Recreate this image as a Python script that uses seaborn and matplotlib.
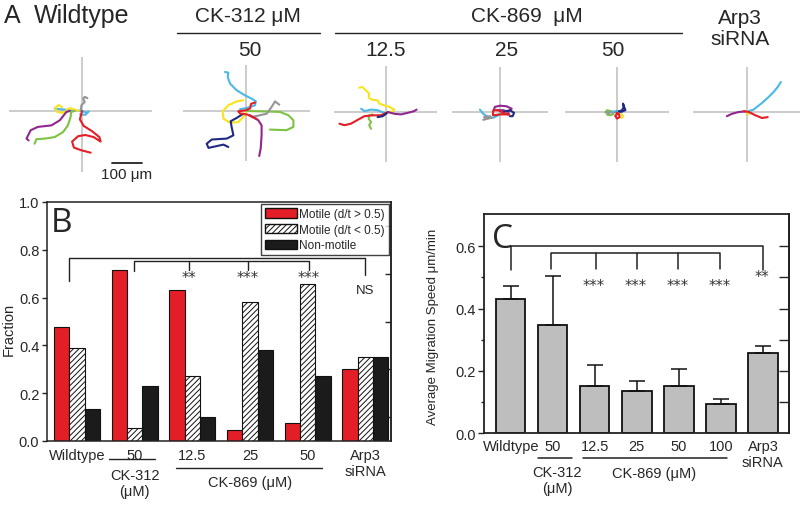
import numpy as np
import pandas as pd
import matplotlib
matplotlib.use("Agg")
import matplotlib.pyplot as plt
import matplotlib.transforms as mtransforms
from matplotlib.lines import Line2D
from matplotlib.patches import Patch
import seaborn as sns

sns.set_theme(style="ticks")
plt.rcParams["font.family"] = ["Liberation Sans", "DejaVu Sans"]
plt.rcParams["hatch.linewidth"] = 0.7

# ---- data ----------------------------------------------------------------
# panel B: fraction of cells per motility class
groups_b = ["WT", "CK312_50", "CK869_12.5", "CK869_25", "CK869_50", "Arp3"]
ticklabels_b = ["Wildtype", "50", "12.5", "25", "50", "Arp3\nsiRNA"]
classes_b = ["Motile (d/t > 0.5)", "Motile (d/t < 0.5)", "Non-motile"]
motile_high = [0.475, 0.715, 0.63, 0.045, 0.075, 0.30]
motile_low = [0.39, 0.055, 0.27, 0.58, 0.655, 0.35]
non_motile = [0.135, 0.23, 0.10, 0.38, 0.27, 0.35]
stars_b = ["**", "***", "***", "NS"]
stars_b_pos = [1.94, 2.96, 4.02, 5.0]

# panel C: average migration speed (um/min) with upper SEM
groups_c = ["WT", "CK312_50", "CK869_12.5", "CK869_25", "CK869_50", "CK869_100", "Arp3"]
ticklabels_c = ["Wildtype", "50", "12.5", "25", "50", "100", "Arp3\nsiRNA"]
speed = [0.43, 0.348, 0.152, 0.135, 0.151, 0.093, 0.257]
speed_err = [0.044, 0.156, 0.065, 0.031, 0.055, 0.015, 0.024]
stars_c = ["***", "***", "***", "***", "**"]
stars_c_pos = [2, 3, 4, 5, 6]

# panel A: example cell tracks (um, start at origin)
RED, GREEN, PURPLE = "#e41e26", "#7dc242", "#90278e"
YELLOW, CYAN, GRAY, NAVY = "#f7e41a", "#4cb8e6", "#959595", "#1f2a80"

tracks_wt = {
    GRAY: [(-4, 2), (-2, 19), (9, 30), (4, 41), (9, 47), (18, 43)],
    CYAN: [(-91, 8), (-44, 3), (0, 0), (17, -6), (22, -2), (11, -13), (-6, -11)],
    YELLOW: [(-11, 0), (-28, 6), (-39, 9), (-50, 6), (-55, -3), (-69, -6), (-83, -3), (-89, 11), (-78, 20), (-67, 13)],
    PURPLE: [(-40, 0), (-52, -3), (-74, -31), (-102, -48), (-147, -53), (-171, -64), (-185, -92), (-178, -98)],
    GREEN: [(-25, 0), (-36, -3), (-38, -20), (-47, -48), (-63, -70), (-91, -87), (-124, -92), (-152, -94), (-158, -109)],
    RED: [(0, 0), (-7, -28), (6, -50), (33, -67), (58, -87), (62, -102), (39, -87), (11, -80), (-13, -84),
          (-33, -102), (-27, -122), (-2, -131), (29, -139)],
}
tracks_ck312 = {
    CYAN: [(-70, 130), (-59, 128), (-61, 113), (-53, 91), (-31, 69), (-3, 52), (19, 41), (33, 32), (30, 19), (2, 10), (-20, 6)],
    YELLOW: [(-9, 36), (-31, 32), (-59, 19), (-78, -1), (-75, -26), (-53, -39), (-26, -37), (-9, -20), (2, -3)],
    GREEN: [(2, 0), (113, -3), (141, -14), (158, -31), (158, -53), (135, -64), (80, -62)],
    GRAY: [(19, -20), (47, -14), (69, -9), (85, 13), (97, 32), (111, 21)],
    NAVY: [(-9, -9), (-31, -23), (-51, -34), (-48, -53), (-42, -81), (-64, -92), (-114, -95), (-131, -109),
           (-125, -123), (-98, -117), (-75, -112), (-59, -120)],
    PURPLE: [(13, -14), (41, -31), (52, -48), (52, -81), (49, -125), (44, -150)],
    RED: [(30, 28), (17, 24), (13, 8), (-3, 2), (-26, -1), (-20, -8), (5, -12), (25, -22), (35, -26)],
}
tracks_ck869_12 = {
    YELLOW: [(-89, 81), (-78, 83), (-67, 72), (-56, 61), (-58, 48), (-47, 41), (-28, 39), (-22, 28), (-6, 22),
             (11, 17), (28, 8), (17, 0), (0, -3)],
    CYAN: [(-83, 11), (-72, 3), (-50, 8), (-28, 6), (-6, -3), (0, -3)],
    GREEN: [(-45, -8), (-56, -11), (-58, -22), (-50, -33), (-56, -44), (-50, -56)],
    RED: [(-155, -39), (-139, -44), (-117, -39), (-94, -26), (-72, -14), (-44, -11), (-17, -11), (0, -3)],
    NAVY: [(-28, -17), (-11, -14), (0, -6), (6, 0)],
    PURPLE: [(6, 0), (28, -6), (50, -8), (72, -3), (94, 3), (102, 8)],
}
tracks_ck869_25 = {
    CYAN: [(-67, 8), (-56, -6), (-39, -17), (-22, -19), (-6, -11), (0, -6)],
    GRAY: [(-56, -26), (-39, -22), (-28, -19), (-50, -19), (-53, -17), (-33, -14)],
    PURPLE: [(-22, 3), (-17, 17), (0, 21), (22, 19), (39, 11), (28, 0), (11, 6), (-11, 6)],
    NAVY: [(11, 0), (33, 6), (47, -3), (42, -14), (33, -14)],
    RED: [(-24, -8), (-22, 6), (-6, 6), (17, -6), (31, -8), (0, -8), (-22, -11)],
}
tracks_ck869_50 = {
    GREEN: [(-39, -2), (-33, 6), (-17, 2), (-11, -6), (-22, -11), (-33, -9)],
    GRAY: [(-28, -6), (-36, 0), (-17, -2), (-6, 0)],
    CYAN: [(-17, 0), (0, 4), (17, 0)],
    NAVY: [(6, 2), (17, 6), (22, 17), (20, 28), (28, 6), (11, 0)],
    RED: [(0, -6), (-6, -13), (0, -22), (9, -17), (6, -6), (-2, -2)],
    YELLOW: [(13, -6), (20, -13), (17, -20)],
}
tracks_arp3 = {
    CYAN: [(6, 3), (22, 8), (33, 17), (50, 30), (72, 50), (89, 67), (102, 83), (113, 100)],
    PURPLE: [(-67, -14), (-50, -6), (-28, 0), (-6, 2)],
    YELLOW: [(0, -3), (6, -8)],
    RED: [(-11, 3), (6, 0), (28, -11), (50, -20), (69, -17)],
}

# ---- figure helpers ------------------------------------------------------
W, H = 800, 506
fig = plt.figure(figsize=(W / 100, H / 100), dpi=100)


def fx(px):
    return px / W


def fy(py):
    return 1 - py / H


def rect(l, t, r, b):
    return [fx(l), fy(b), fx(r) - fx(l), fy(t) - fy(b)]


def fig_line(x0, x1, y, lw=1.0):
    fig.add_artist(Line2D([fx(x0), fx(x1)], [fy(y), fy(y)], color="#222222", lw=lw))


STAR_FONT = ["DejaVu Sans"]

# ---- panel A -------------------------------------------------------------
PX_PER_UM = 0.3
track_panels = [
    (tracks_wt, (82, 112), (73, 70, 54, 61)),
    (tracks_ck312, (246, 112), (63, 64, 46, 50)),
    (tracks_ck869_12, (386, 113), (52, 51, 46, 50)),
    (tracks_ck869_25, (500, 113), (48, 48, 45, 50)),
    (tracks_ck869_50, (617, 113), (52, 52, 45, 50)),
    (tracks_arp3, (747, 113), (54, 53, 45, 50)),
]
track_axes = []
for tracks, (cx, cy), (l, r, u, d) in track_panels:
    ax = fig.add_axes(rect(cx - l, cy - u, cx + r, cy + d))
    ax.set_xlim(-l / PX_PER_UM, r / PX_PER_UM)
    ax.set_ylim(-d / PX_PER_UM, u / PX_PER_UM)
    ax.axhline(0, color="#c8c8c8", lw=1.3, zorder=0)
    ax.axvline(0, color="#c8c8c8", lw=1.3, zorder=0)
    for col, pts in tracks.items():
        xy = np.array(pts)
        ax.plot(xy[:, 0], xy[:, 1], color=col, lw=1.5, solid_capstyle="round")
    ax.set_axis_off()
    track_axes.append(ax)

# scale bar 100 um
ax0 = track_axes[0]
ax0.plot([99, 199], [-172, -172], color="#222222", lw=1.3, clip_on=False)
ax0.text(149, -185, "100 μm", ha="center", va="top", fontsize=11, clip_on=False)

hdr = 16
fig.text(fx(4), fy(16), "A", fontsize=18, va="center", ha="left")
fig.text(fx(34), fy(16), "Wildtype", fontsize=18, va="center", ha="left")
fig.text(fx(248), fy(17), "CK-312 μM", fontsize=hdr - 1, va="center", ha="center")
fig_line(177, 320, 34)
fig.text(fx(250), fy(50), "50", fontsize=hdr - 1, va="center", ha="center")
fig.text(fx(527), fy(16), "CK-869  μM", fontsize=hdr - 1, va="center", ha="center")
fig_line(335, 682, 34)
for lab, xc in zip(["12.5", "25", "50"], [386, 507, 613]):
    fig.text(fx(xc), fy(50), lab, fontsize=hdr - 1, va="center", ha="center")
fig.text(fx(740), fy(29), "Arp3\nsiRNA", fontsize=hdr - 1, va="center", ha="center", linespacing=1.1)

# ---- panel B -------------------------------------------------------------
df_b = pd.DataFrame({
    "group": groups_b * 3,
    "cls": [classes_b[0]] * 6 + [classes_b[1]] * 6 + [classes_b[2]] * 6,
    "fraction": motile_high + motile_low + non_motile,
})
axb = fig.add_axes(rect(47, 203, 391, 442))
pal_b = [RED, "white", "#1b1b1b"]
sns.barplot(data=df_b, x="group", y="fraction", hue="cls", hue_order=classes_b, order=groups_b,
            palette=pal_b, edgecolor="#111111", linewidth=0.8, errorbar=None, legend=False,
            saturation=1, ax=axb)
for bar in axb.containers[1]:
    bar.set_hatch("//////")
axb.set_xlim(-0.52, 5.445)
axb.set_ylim(0, 1.0)
axb.set_yticks(np.arange(0, 1.01, 0.2))
axb.set_yticklabels([f"{v:.1f}" for v in np.arange(0, 1.01, 0.2)])
axb.set_xticks(range(len(groups_b)))
axb.set_xticklabels(ticklabels_b)
axb.tick_params(axis="x", length=0, pad=5, labelsize=10.5)
axb.tick_params(axis="y", direction="out", length=3.5, labelsize=10.5, width=1, pad=2)
axb.set_xlabel("")
axb.set_ylabel("Fraction", fontsize=10.5)
axb.yaxis.set_label_coords(-0.09, 0.47)
for s in axb.spines.values():
    s.set_linewidth(1.1)
    s.set_color("#222222")
secb = axb.secondary_yaxis("right")
secb.set_yticks([0.1, 0.3, 0.5, 0.7, 0.9])
secb.set_yticklabels([])
secb.tick_params(direction="in", length=4, width=1)
secb.spines["right"].set_linewidth(1.1)

legend_handles = [
    Patch(facecolor=RED, edgecolor="#111111", label=classes_b[0]),
    Patch(facecolor="white", edgecolor="#111111", hatch="//////", label=classes_b[1]),
    Patch(facecolor="#1b1b1b", edgecolor="#111111", label=classes_b[2]),
]
legb = axb.legend(handles=legend_handles, loc="upper right", fontsize=8.5, frameon=True, fancybox=False,
                  edgecolor="#111111", handlelength=2.7, handleheight=0.85, borderaxespad=0.2,
                  labelspacing=0.32, handletextpad=0.25, borderpad=0.3)
legb.get_frame().set_linewidth(1.0)
axb.text(0.012, 0.985, "B", transform=axb.transAxes, fontsize=24, va="top", ha="left",
         family=["Open Sans", "DejaVu Sans"])

# significance brackets B
kb = dict(color="#222222", lw=1.0)
axb.plot([-0.145, -0.145, 5.0, 5.0], [0.669, 0.766, 0.766, 0.694], **kb)
axb.plot([0.98, 0.98, 4.02, 4.02], [0.712, 0.752, 0.752, 0.715], **kb)
for xp in [1.94, 2.96]:
    axb.plot([xp, xp], [0.752, 0.715], **kb)
for lab, xp in zip(stars_b, stars_b_pos):
    if lab == "NS":
        axb.text(xp, 0.632, lab, ha="center", va="center", fontsize=9.5)
    else:
        axb.text(xp, 0.683, lab, ha="center", va="center", fontsize=10.5, family=STAR_FONT,
                 color="#333333")

tb = mtransforms.blended_transform_factory(axb.transData, fig.transFigure)
axb.plot([0.55, 1.35], [fy(460)] * 2, transform=tb, clip_on=False, **kb)
axb.plot([1.71, 4.24], [fy(469)] * 2, transform=tb, clip_on=False, **kb)
axb.text(1.0, fy(484), "CK-312\n(μM)", transform=tb, ha="center", va="center", fontsize=10.5, linespacing=1.2)
axb.text(3.0, fy(483), "CK-869 (μM)", transform=tb, ha="center", va="center", fontsize=10.5)

# ---- panel C -------------------------------------------------------------
df_c = pd.DataFrame({"group": groups_c, "speed": speed})
axc = fig.add_axes(rect(484, 215, 789, 434))
sns.barplot(data=df_c, x="group", y="speed", order=groups_c, color="#bebebe", saturation=1,
            edgecolor="#111111", linewidth=1.3, width=0.7, errorbar=None, ax=axc)
axc.errorbar(np.arange(len(groups_c)), speed, yerr=[np.zeros(len(speed)), speed_err], fmt="none",
             ecolor="#111111", elinewidth=1.1, capsize=5.5, capthick=1.1, zorder=1)
axc.set_xlim(-0.635, 6.62)
axc.set_ylim(0, 0.704)
axc.set_yticks([0.0, 0.2, 0.4, 0.6])
axc.set_yticklabels(["0.0", "0.2", "0.4", "0.6"])
axc.set_yticks([0.1, 0.3, 0.5], minor=True)
axc.set_xticks(range(len(groups_c)))
axc.set_xticklabels(ticklabels_c)
axc.tick_params(axis="x", length=0, pad=4, labelsize=10.5)
axc.tick_params(axis="y", which="major", direction="out", length=4, width=1, labelsize=10.5, pad=2)
axc.tick_params(axis="y", which="minor", direction="out", length=2.5, width=1)
axc.set_xlabel("")
axc.set_ylabel("Average Migration Speed μm/min", fontsize=9.5)
axc.yaxis.set_label_coords(-0.148, 0.49)
for s in axc.spines.values():
    s.set_linewidth(1.3)
    s.set_color("#222222")
secc = axc.secondary_yaxis("right")
secc.set_yticks(np.arange(0.1, 0.65, 0.1))
secc.set_yticklabels([])
secc.tick_params(direction="in", length=7, width=1)
secc.spines["right"].set_linewidth(1.3)
axc.text(0.025, 0.965, "C", transform=axc.transAxes, fontsize=24, va="top", ha="left",
         family=["Open Sans", "DejaVu Sans"])

kc = dict(color="#222222", lw=1.1)
axc.plot([0, 0, 6, 6], [0.525, 0.60, 0.60, 0.525], **kc)
axc.plot([0.95, 0.95, 4.98, 4.98], [0.527, 0.579, 0.579, 0.527], **kc)
for xp in [2.02, 3.0, 3.99]:
    axc.plot([xp, xp], [0.579, 0.527], **kc)
for lab, xp in zip(stars_c, stars_c_pos):
    yv = 0.474 if lab == "***" else 0.504
    axc.text(xp - 0.02, yv, lab, ha="center", va="center", fontsize=10.5, color="#333333",
             family=STAR_FONT)

tc = mtransforms.blended_transform_factory(axc.transData, fig.transFigure)
axc.plot([0.65, 1.46], [fy(459)] * 2, transform=tc, clip_on=False, **kc)
axc.plot([1.72, 5.15], [fy(459)] * 2, transform=tc, clip_on=False, **kc)
axc.text(1.1, fy(481), "CK-312\n(μM)", transform=tc, ha="center", va="center", fontsize=10.5, linespacing=1.2)
axc.text(3.4, fy(474), "CK-869 (μM)", transform=tc, ha="center", va="center", fontsize=10.5)

fig.savefig("out.png", dpi=100)
